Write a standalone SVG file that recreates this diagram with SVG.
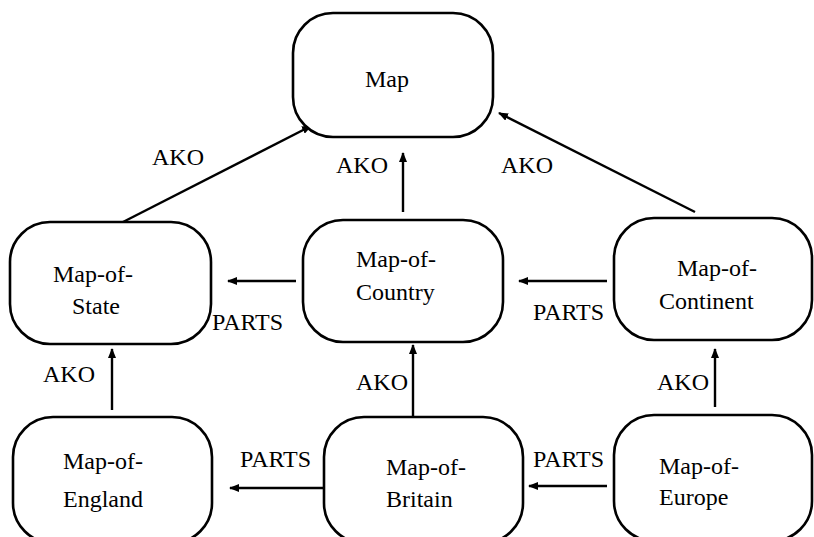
<svg xmlns="http://www.w3.org/2000/svg" width="814" height="537" viewBox="0 0 814 537">
<defs>
<style>
.box{fill:#fff;stroke:#000;stroke-width:2.6}
.t{font-family:'Liberation Serif','DejaVu Serif','Times New Roman',serif;font-size:24px;fill:#000}
.e{stroke:#000;stroke-width:2.4;fill:none}
</style>
<marker id="ah" viewBox="0 0 10 8" refX="9" refY="4" markerWidth="10" markerHeight="8" markerUnits="userSpaceOnUse" orient="auto">
<path d="M0,0 L10,4 L0,8 Z" fill="#000"/>
</marker>
</defs>
<rect width="814" height="537" fill="#fff"/>
<g id="connectors" font-family="Liberation Serif, DejaVu Serif, serif">
<line class="e" x1="123" y1="222" x2="311" y2="126" marker-end="url(#ah)"/>
<line class="e" x1="403" y1="212" x2="403" y2="153" marker-end="url(#ah)"/>
<line class="e" x1="695" y1="212" x2="499" y2="113" marker-end="url(#ah)"/>
<line class="e" x1="296" y1="281" x2="228" y2="281" marker-end="url(#ah)"/>
<line class="e" x1="607" y1="281" x2="519" y2="281" marker-end="url(#ah)"/>
<line class="e" x1="112" y1="410" x2="112" y2="349" marker-end="url(#ah)"/>
<line class="e" x1="413" y1="419" x2="413" y2="345" marker-end="url(#ah)"/>
<line class="e" x1="715" y1="407" x2="715" y2="349" marker-end="url(#ah)"/>
<line class="e" x1="324" y1="488" x2="230" y2="488" marker-end="url(#ah)"/>
<line class="e" x1="607" y1="486" x2="529" y2="486" marker-end="url(#ah)"/>
<text class="t" x="152" y="165">AKO</text>
<text class="t" x="336" y="173">AKO</text>
<text class="t" x="501" y="173">AKO</text>
<text class="t" x="212" y="330">PARTS</text>
<text class="t" x="533" y="320">PARTS</text>
<text class="t" x="43" y="382">AKO</text>
<text class="t" x="356" y="390">AKO</text>
<text class="t" x="657" y="390">AKO</text>
<text class="t" x="240" y="467">PARTS</text>
<text class="t" x="533" y="467">PARTS</text>
</g>
<g id="map">
<rect class="box" x="293" y="13" width="200" height="124" rx="40" ry="40"/>
<text class="t" x="365" y="87">Map</text>
</g>
<g id="map-of-state">
<rect class="box" x="10" y="222" width="201" height="122" rx="40" ry="40"/>
<text class="t" x="53" y="282">Map-of-</text>
<text class="t" x="72" y="314">State</text>
</g>
<g id="map-of-country">
<rect class="box" x="303" y="220" width="200" height="122" rx="40" ry="40"/>
<text class="t" x="356" y="267">Map-of-</text>
<text class="t" x="356" y="300">Country</text>
</g>
<g id="map-of-continent">
<rect class="box" x="614" y="218" width="198" height="122" rx="40" ry="40"/>
<text class="t" x="677" y="276">Map-of-</text>
<text class="t" x="659" y="309">Continent</text>
</g>
<g id="map-of-england">
<rect class="box" x="13" y="417" width="199" height="126" rx="40" ry="40"/>
<text class="t" x="63" y="469">Map-of-</text>
<text class="t" x="63" y="507">England</text>
</g>
<g id="map-of-britain">
<rect class="box" x="324" y="417" width="199" height="126" rx="40" ry="40"/>
<text class="t" x="386" y="475">Map-of-</text>
<text class="t" x="386" y="507">Britain</text>
</g>
<g id="map-of-europe">
<rect class="box" x="614" y="415" width="198" height="126" rx="40" ry="40"/>
<text class="t" x="659" y="474">Map-of-</text>
<text class="t" x="659" y="505">Europe</text>
</g>
</svg>
